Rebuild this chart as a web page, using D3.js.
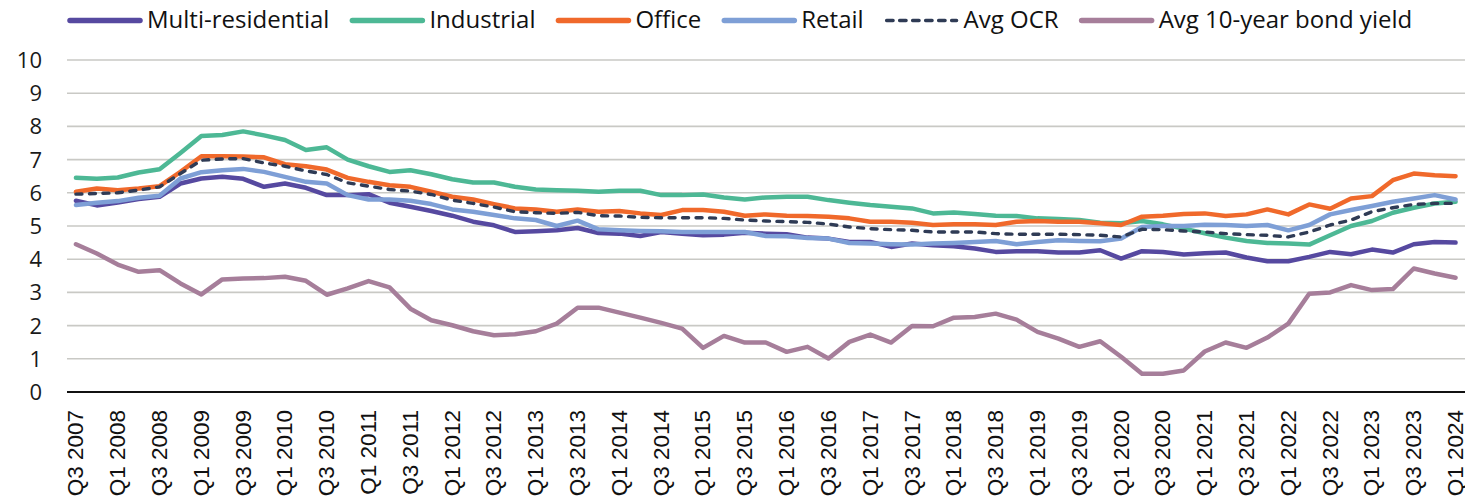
<!DOCTYPE html>
<html>
<head>
<meta charset="utf-8">
<script src="https://cdn.jsdelivr.net/npm/d3@7"></script>
<style>
  body { margin: 0; background: #ffffff; }
  svg { display: block; }
</style>
</head>
<body>
<svg id="canvas" width="1465" height="504"></svg>
<script>
// ###############
// Data
// ###############
var quarters = [
  "Q3 2007","Q4 2007",
  "Q1 2008","Q2 2008","Q3 2008","Q4 2008",
  "Q1 2009","Q2 2009","Q3 2009","Q4 2009",
  "Q1 2010","Q2 2010","Q3 2010","Q4 2010",
  "Q1 2011","Q2 2011","Q3 2011","Q4 2011",
  "Q1 2012","Q2 2012","Q3 2012","Q4 2012",
  "Q1 2013","Q2 2013","Q3 2013","Q4 2013",
  "Q1 2014","Q2 2014","Q3 2014","Q4 2014",
  "Q1 2015","Q2 2015","Q3 2015","Q4 2015",
  "Q1 2016","Q2 2016","Q3 2016","Q4 2016",
  "Q1 2017","Q2 2017","Q3 2017","Q4 2017",
  "Q1 2018","Q2 2018","Q3 2018","Q4 2018",
  "Q1 2019","Q2 2019","Q3 2019","Q4 2019",
  "Q1 2020","Q2 2020","Q3 2020","Q4 2020",
  "Q1 2021","Q2 2021","Q3 2021","Q4 2021",
  "Q1 2022","Q2 2022","Q3 2022","Q4 2022",
  "Q1 2023","Q2 2023","Q3 2023","Q4 2023",
  "Q1 2024"
];

var multiResidential = [
  5.76,5.62,5.71,5.81,5.88, 6.28,6.43,6.48,6.42,6.18,
  6.28,6.15,5.93,5.93,5.96, 5.70,5.58,5.45,5.31,5.13,
  5.02,4.82,4.84,4.87,4.94, 4.79,4.77,4.70,4.82,4.77,
  4.72,4.74,4.80,4.77,4.75, 4.65,4.62,4.52,4.52,4.37,
  4.47,4.42,4.39,4.32,4.22, 4.24,4.24,4.20,4.20,4.27,
  4.02,4.24,4.22,4.14,4.18, 4.20,4.05,3.94,3.94,4.07,
  4.22,4.15,4.29,4.20,4.45, 4.52,4.50
];

var industrial = [
  6.45,6.42,6.46,6.61,6.71, 7.20,7.71,7.74,7.85,7.73,
  7.59,7.29,7.37,7.00,6.80, 6.63,6.68,6.56,6.41,6.31,
  6.31,6.18,6.10,6.08,6.06, 6.03,6.06,6.06,5.93,5.93,
  5.95,5.86,5.80,5.86,5.88, 5.88,5.78,5.70,5.63,5.58,
  5.53,5.38,5.41,5.36,5.31, 5.30,5.23,5.21,5.18,5.10,
  5.08,5.15,5.05,4.92,4.78, 4.65,4.55,4.49,4.47,4.44,
  4.72,5.00,5.15,5.40,5.55, 5.68,5.73
];

var office = [
  6.03,6.13,6.08,6.13,6.20, 6.63,7.10,7.10,7.09,7.07,
  6.86,6.80,6.70,6.45,6.33, 6.23,6.18,6.03,5.88,5.80,
  5.66,5.53,5.50,5.43,5.50, 5.43,5.45,5.38,5.33,5.48,
  5.48,5.43,5.31,5.35,5.31, 5.30,5.28,5.23,5.13,5.13,
  5.10,5.03,5.05,5.05,5.03, 5.13,5.15,5.13,5.13,5.08,
  5.03,5.28,5.31,5.36,5.38, 5.30,5.35,5.50,5.35,5.65,
  5.52,5.83,5.90,6.38,6.58, 6.53,6.50
];

var retail = [
  5.63,5.70,5.75,5.85,5.91, 6.43,6.62,6.68,6.72,6.63,
  6.48,6.33,6.28,5.93,5.80, 5.80,5.76,5.66,5.50,5.43,
  5.33,5.23,5.18,5.00,5.16, 4.90,4.87,4.85,4.84,4.82,
  4.82,4.82,4.82,4.70,4.69, 4.64,4.62,4.49,4.47,4.45,
  4.44,4.47,4.49,4.52,4.55, 4.45,4.52,4.57,4.55,4.54,
  4.62,4.97,5.00,5.00,5.04, 5.03,5.00,5.03,4.87,5.03,
  5.35,5.48,5.60,5.73,5.83, 5.93,5.80
];

var avgOCR = [
  5.96,5.98,6.00,6.08,6.18, 6.58,6.98,7.02,7.03,6.90,
  6.80,6.66,6.55,6.30,6.20, 6.10,6.05,5.95,5.78,5.68,
  5.57,5.43,5.40,5.38,5.41, 5.31,5.30,5.26,5.25,5.25,
  5.25,5.23,5.18,5.15,5.13, 5.11,5.06,4.97,4.92,4.89,
  4.87,4.82,4.82,4.82,4.77, 4.75,4.75,4.75,4.74,4.72,
  4.67,4.90,4.89,4.85,4.82, 4.77,4.74,4.72,4.67,4.82,
  5.03,5.18,5.43,5.55,5.65, 5.68,5.68
];

var bondYield = [
  4.45,4.17,3.84,3.62,3.67, 3.27,2.94,3.39,3.42,3.43,
  3.47,3.35,2.93,3.12,3.34, 3.15,2.51,2.16,2.01,1.83,
  1.71,1.74,1.83,2.06,2.54, 2.54,2.39,2.24,2.08,1.91,
  1.33,1.69,1.49,1.49,1.21, 1.36,1.01,1.51,1.73,1.49,
  1.99,1.98,2.24,2.26,2.36, 2.18,1.81,1.61,1.36,1.53,
  1.06,0.55,0.55,0.65,1.22, 1.49,1.33,1.64,2.06,2.96,
  3.00,3.22,3.07,3.10,3.72, 3.57,3.44
];

var seriesNames  = ["Multi-residential", "Industrial", "Office", "Retail", "Avg OCR", "Avg 10-year bond yield"];
var seriesValues = [multiResidential, industrial, office, retail, avgOCR, bondYield];
var yTicks = [0, 1, 2, 3, 4, 5, 6, 7, 8, 9, 10];

// ###############
// Styling
// ###############
var seriesColors = ["#5649a0", "#4db895", "#f0692b", "#7e9fd6", "#2f3b55", "#a67e9a"];
var seriesDash   = [null, null, null, null, "6,7.5", null];
var seriesWidth  = [4.5, 4.5, 4.5, 4.5, 3.4, 4.5];

// ###############
// Draw
// ###############
var svg = d3.select("#canvas");

var x = d3.scalePoint()
    .domain(quarters)
    .range([65.5, 1466])
    .padding(0.5);

var y = d3.scaleLinear()
    .domain([0, 10])
    .range([392, 60]);

// horizontal gridlines (skip 0, that one is the axis line)
svg.append("g")
  .attr("class", "grid")
  .selectAll("line")
  .data(yTicks.filter(function(d) { return d > 0; }))
  .enter()
  .append("line")
    .attr("x1", 67)
    .attr("x2", 1465)
    .attr("y1", function(d) { return y(d); })
    .attr("y2", function(d) { return y(d); })
    .attr("stroke", "#c9c9c5")
    .attr("stroke-width", 1.6);

// y tick labels
svg.append("g")
  .attr("class", "ylabels")
  .selectAll("text")
  .data(yTicks)
  .enter()
  .append("text")
    .attr("x", 42)
    .attr("y", function(d) { return y(d); })
    .attr("dy", "0.36em")
    .attr("text-anchor", "end")
    .attr("font-family", "'Open Sans', sans-serif")
    .attr("font-size", "22px")
    .attr("fill", "#1a1a1a")
    .text(function(d) { return d; });

// category axis line at 0
svg.append("line")
    .attr("x1", 67)
    .attr("x2", 1465)
    .attr("y1", y(0))
    .attr("y2", y(0))
    .attr("stroke", "#111")
    .attr("stroke-width", 2);

// x labels, every second quarter, rotated
svg.append("g")
  .attr("class", "xlabels")
  .selectAll("text")
  .data(quarters.filter(function(d, i) { return i % 2 === 0; }))
  .enter()
  .append("text")
    .attr("transform", function(d) { return "translate(" + x(d) + ",410) rotate(-90)"; })
    .attr("dy", "0.33em")
    .attr("text-anchor", "end")
    .attr("font-family", "'Liberation Sans', Arial, sans-serif")
    .attr("font-size", "22.5px")
    .attr("fill", "#111")
    .text(function(d) { return d; });

// series lines, drawn in legend order so later ones sit on top
var line = d3.line()
    .x(function(d, i) { return x(quarters[i]); })
    .y(function(d) { return y(d); });

svg.append("g")
  .attr("class", "series")
  .selectAll("path")
  .data(seriesValues)
  .enter()
  .append("path")
    .attr("d", line)
    .attr("fill", "none")
    .attr("stroke", function(d, i) { return seriesColors[i]; })
    .attr("stroke-width", function(d, i) { return seriesWidth[i]; })
    .attr("stroke-dasharray", function(d, i) { return seriesDash[i]; })
    .attr("stroke-linejoin", "round")
    .attr("stroke-linecap", "round");

// legend across the top
var legend = svg.append("g").attr("class", "legend");
var lx = 70;
seriesNames.forEach(function(name, i) {
    legend.append("line")
        .attr("x1", lx)
        .attr("x2", lx + 70)
        .attr("y1", 20.5)
        .attr("y2", 20.5)
        .attr("stroke", seriesColors[i])
        .attr("stroke-width", seriesDash[i] ? 3.4 : 5.5)
        .attr("stroke-dasharray", seriesDash[i] ? "6.5,6.5" : null)
        .attr("stroke-linecap", "round");
    var t = legend.append("text")
        .attr("x", lx + 77)
        .attr("y", 27.5)
        .attr("font-family", "'Open Sans', sans-serif")
        .attr("font-size", "24px")
        .attr("fill", "#111")
        .text(name);
    lx += 77 + t.node().getComputedTextLength() + 23;
});
</script>
</body>
</html>
